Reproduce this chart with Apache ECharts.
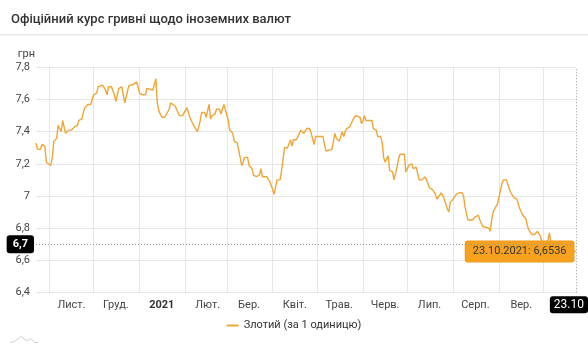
<!DOCTYPE html>
<html>
<head>
<meta charset="utf-8">
<script src="https://cdn.jsdelivr.net/npm/echarts@6/dist/echarts.min.js"></script>
<style>
  html, body { margin: 0; padding: 0; background: #fff; }
  #chart { width: 588px; height: 350px; }
</style>
</head>
<body>
<div id="chart"></div>
<script>
// Official NBU rate of the hryvnia per 1 Polish zloty, Oct 2020 – Oct 2021
const chartTitle = 'Офіційний курс гривні щодо іноземних валют';
const seriesName = 'Злотий (за 1 одиницю)';
const unitName = 'грн';

const dates = [
  '2020-10-23','2020-10-24','2020-10-26','2020-10-27','2020-10-28','2020-10-29','2020-10-30','2020-10-31',
  '2020-11-02','2020-11-03','2020-11-04','2020-11-06','2020-11-07','2020-11-08','2020-11-09','2020-11-10',
  '2020-11-12','2020-11-13','2020-11-14','2020-11-16','2020-11-17','2020-11-18','2020-11-20','2020-11-21',
  '2020-11-23','2020-11-24','2020-11-25','2020-11-26','2020-11-27','2020-11-29','2020-11-30',
  '2020-12-01','2020-12-03','2020-12-04','2020-12-05','2020-12-07','2020-12-09','2020-12-10','2020-12-11',
  '2020-12-13','2020-12-14','2020-12-15','2020-12-16','2020-12-18','2020-12-20','2020-12-21','2020-12-22',
  '2020-12-24','2020-12-25','2020-12-27','2020-12-28','2020-12-30','2020-12-31',
  '2021-01-01','2021-01-03','2021-01-05','2021-01-06','2021-01-07','2021-01-10','2021-01-11','2021-01-12',
  '2021-01-13','2021-01-14','2021-01-16','2021-01-18','2021-01-19','2021-01-21','2021-01-22','2021-01-23',
  '2021-01-25','2021-01-26','2021-01-28','2021-01-30','2021-01-31',
  '2021-02-02','2021-02-03','2021-02-04','2021-02-06','2021-02-07','2021-02-09','2021-02-10','2021-02-11',
  '2021-02-12','2021-02-14','2021-02-15','2021-02-17','2021-02-18','2021-02-19','2021-02-21','2021-02-22',
  '2021-02-24','2021-02-25','2021-02-26','2021-02-27','2021-02-28',
  '2021-03-02','2021-03-03','2021-03-05','2021-03-06','2021-03-07','2021-03-08','2021-03-10','2021-03-11',
  '2021-03-12','2021-03-13','2021-03-15','2021-03-16','2021-03-18','2021-03-19','2021-03-21','2021-03-23',
  '2021-03-24','2021-03-25','2021-03-26','2021-03-28','2021-03-29','2021-03-30',
  '2021-04-01','2021-04-02','2021-04-03','2021-04-04','2021-04-06','2021-04-07','2021-04-08','2021-04-09',
  '2021-04-11','2021-04-12','2021-04-13','2021-04-14','2021-04-15','2021-04-17','2021-04-18','2021-04-20',
  '2021-04-21','2021-04-22','2021-04-24','2021-04-26','2021-04-27','2021-04-28','2021-04-29','2021-04-30',
  '2021-05-03','2021-05-05','2021-05-06','2021-05-07','2021-05-08','2021-05-11','2021-05-12','2021-05-13',
  '2021-05-14','2021-05-16','2021-05-17','2021-05-18','2021-05-19','2021-05-20','2021-05-21','2021-05-23',
  '2021-05-24','2021-05-25','2021-05-27','2021-05-28','2021-05-30','2021-05-31',
  '2021-06-01','2021-06-02','2021-06-03','2021-06-04','2021-06-07','2021-06-08','2021-06-10','2021-06-11',
  '2021-06-13','2021-06-14','2021-06-15','2021-06-16','2021-06-18','2021-06-19','2021-06-20','2021-06-21',
  '2021-06-22','2021-06-24','2021-06-25','2021-06-26','2021-06-29','2021-06-30',
  '2021-07-02','2021-07-03','2021-07-04','2021-07-05','2021-07-07','2021-07-08','2021-07-09','2021-07-11',
  '2021-07-13','2021-07-14','2021-07-16','2021-07-17','2021-07-18','2021-07-20','2021-07-21','2021-07-22',
  '2021-07-24','2021-07-25','2021-07-26','2021-07-28','2021-07-29','2021-07-30',
  '2021-08-01','2021-08-02','2021-08-03','2021-08-05','2021-08-06','2021-08-07','2021-08-08','2021-08-09',
  '2021-08-11','2021-08-12','2021-08-14','2021-08-16','2021-08-18','2021-08-19','2021-08-21','2021-08-22',
  '2021-08-25','2021-08-26','2021-08-27','2021-08-28','2021-08-29','2021-08-30','2021-08-31',
  '2021-09-02','2021-09-03','2021-09-04','2021-09-06','2021-09-07','2021-09-08','2021-09-09','2021-09-11',
  '2021-09-12','2021-09-13','2021-09-14','2021-09-15','2021-09-16','2021-09-17','2021-09-19','2021-09-20',
  '2021-09-21','2021-09-23','2021-09-25','2021-09-27','2021-09-28','2021-09-29','2021-09-30',
  '2021-10-01','2021-10-03','2021-10-04','2021-10-05','2021-10-06','2021-10-08','2021-10-11','2021-10-14',
  '2021-10-17','2021-10-20','2021-10-23'
];

const rates = [
  7.33,7.29,7.29,7.32,7.31,7.31,7.21,7.20,
  7.19,7.24,7.34,7.36,7.44,7.44,7.40,7.47,
  7.39,7.40,7.41,7.41,7.40,7.43,7.44,7.47,
  7.48,7.52,7.55,7.54,7.57,7.57,7.57,
  7.63,7.64,7.68,7.69,7.69,7.66,7.63,7.68,
  7.68,7.68,7.63,7.59,7.67,7.68,7.67,7.58,
  7.66,7.69,7.69,7.69,7.71,7.68,
  7.64,7.63,7.63,7.67,7.66,7.66,7.66,7.73,
  7.58,7.53,7.49,7.49,7.49,7.54,7.58,7.59,
  7.56,7.54,7.50,7.50,7.50,
  7.55,7.52,7.49,7.45,7.45,7.40,7.43,7.47,
  7.52,7.52,7.49,7.57,7.48,7.50,7.51,7.54,
  7.54,7.51,7.50,7.57,7.57,
  7.47,7.41,7.39,7.34,7.33,7.33,7.24,7.19,
  7.21,7.24,7.24,7.19,7.17,7.13,7.12,7.13,
  7.17,7.12,7.12,7.12,7.11,7.09,
  7.04,7.01,7.06,7.10,7.10,7.16,7.17,7.30,
  7.30,7.30,7.35,7.31,7.35,7.35,7.36,7.41,
  7.42,7.39,7.42,7.42,7.39,7.38,7.32,7.37,
  7.37,7.37,7.32,7.28,7.29,7.29,7.34,7.39,
  7.36,7.34,7.34,7.40,7.37,7.40,7.42,7.43,
  7.44,7.47,7.50,7.49,7.49,7.45,
  7.47,7.50,7.47,7.47,7.47,7.42,7.41,7.37,
  7.37,7.33,7.24,7.21,7.25,7.16,7.15,7.15,
  7.10,7.18,7.23,7.26,7.26,7.15,
  7.19,7.20,7.20,7.17,7.18,7.14,7.10,7.10,
  7.12,7.10,7.05,7.04,7.04,7.01,6.98,6.97,
  7.02,7.03,6.98,6.92,6.90,6.96,
  6.98,6.99,7.01,7.02,7.03,7.02,7.00,6.93,
  6.85,6.85,6.85,6.87,6.88,6.85,6.81,6.80,
  6.80,6.78,6.85,6.90,6.92,6.92,6.95,
  7.04,7.08,7.10,7.10,7.07,7.04,7.02,6.99,
  6.98,6.98,6.95,6.92,6.93,6.88,6.86,6.82,
  6.79,6.76,6.76,6.78,6.78,6.75,6.71,
  6.69,6.68,6.68,6.77,6.71,6.69,6.68,6.67,
  6.66,6.66,6.6536
];

const monthLabels = {
  '01': '2021', '02': 'Лют.', '03': 'Бер.', '04': 'Квіт.', '05': 'Трав.', '06': 'Черв.',
  '07': 'Лип.', '08': 'Серп.', '09': 'Вер.', '11': 'Лист.', '12': 'Груд.'
};

const yMin = 6.4, yMax = 7.8, yStep = 0.2;
const crossValue = 6.7;
const lineColor = '#F0A535';

// every calendar day of the period becomes one slot on the x axis
const days = [];
for (let t = Date.UTC(2020, 9, 23); t <= Date.UTC(2021, 9, 23); t += 86400000) {
  days.push(new Date(t).toISOString().slice(0, 10));
}
const lastDay = days[days.length - 1];
const lastIdx = dates.length - 1;

const fmtNum = v => String(v).replace('.', ',');
const fmtDate = d => d.slice(8, 10) + '.' + d.slice(5, 7) + '.' + d.slice(0, 4);

const lineData = dates.map((d, i) => [d, rates[i]]);

const chart = echarts.init(document.getElementById('chart'), null, { renderer: 'canvas' });

chart.setOption({
  animation: false,
  textStyle: { fontFamily: 'Roboto' },
  title: {
    text: chartTitle,
    left: 6,
    top: 8,
    textStyle: { fontSize: 13, fontWeight: 500, color: '#333', fontFamily: 'Roboto' }
  },
  graphic: [
    { type: 'rect', left: 0, top: 34, shape: { width: 588, height: 1.5 }, style: { fill: '#e8e8e8' }, silent: true },
    {
      type: 'polyline', left: 8, top: 334, silent: true,
      shape: { points: [[0, 6], [4, 5], [8, 2], [11, 0], [14, 3], [17, 4], [20, 2], [24, 6], [28, 6]] },
      style: { stroke: '#ccc', lineWidth: 1, fill: null }
    }
  ],
  grid: { left: 36, right: 12, top: 67.5, bottom: 57.7, containLabel: false },
  legend: {
    bottom: 14,
    left: 'center',
    icon: 'rect',
    itemWidth: 12,
    itemHeight: 2,
    itemGap: 10,
    textStyle: { fontSize: 11, color: '#333', fontFamily: 'Roboto' },
    data: [seriesName]
  },
  xAxis: {
    type: 'category',
    data: days,
    boundaryGap: false,
    axisLine: { show: true, lineStyle: { color: '#e6e6e6' } },
    axisTick: { show: false },
    splitLine: {
      show: true,
      interval: (i, v) => v.slice(8) === '01',
      lineStyle: { color: '#e6e6e6', width: 1 }
    },
    axisLabel: {
      interval: (i, v) => v.slice(8) === '16' && v < '2021-10-01',
      margin: 7,
      fontSize: 11,
      color: '#444',
      formatter: v => {
        const m = v.slice(5, 7);
        return m === '01' ? '{b|' + monthLabels[m] + '}' : monthLabels[m];
      },
      rich: { b: { fontWeight: 'bold', fontSize: 11, color: '#333' } }
    },
    axisPointer: {
      show: true,
      status: 'show',
      value: lastDay,
      triggerTooltip: false,
      type: 'line',
      lineStyle: { color: '#999', type: [1, 2], width: 1 },
      label: {
        show: true,
        formatter: p => p.value.slice(8, 10) + '.' + p.value.slice(5, 7),
        backgroundColor: '#000',
        color: '#fff',
        fontSize: 12,
        padding: [3, 4, 2, 4],
        margin: 4
      }
    }
  },
  yAxis: {
    type: 'value',
    min: yMin,
    max: yMax,
    interval: yStep,
    name: unitName,
    nameLocation: 'end',
    nameGap: 8,
    nameTextStyle: { align: 'right', color: '#444', fontSize: 11, padding: [0, 1, 0, 0] },
    axisLine: { show: false },
    axisTick: { show: false },
    splitLine: { lineStyle: { color: '#e6e6e6' } },
    axisLabel: {
      margin: 6,
      fontSize: 11,
      color: '#444',
      formatter: v => fmtNum(Math.round(v * 10) / 10)
    },
    axisPointer: {
      show: true,
      status: 'show',
      value: crossValue,
      triggerTooltip: false,
      type: 'line',
      lineStyle: { color: '#999', type: [1, 2], width: 1 },
      label: {
        show: true,
        formatter: p => fmtNum(Math.round(p.value * 10) / 10),
        backgroundColor: '#000',
        color: '#fff',
        fontWeight: 'bold',
        fontSize: 11,
        padding: [4, 6, 3, 6],
        margin: 2
      }
    }
  },
  series: [{
    name: seriesName,
    type: 'line',
    data: lineData,
    showSymbol: false,
    symbol: 'none',
    lineStyle: { color: lineColor, width: 1.4 },
    itemStyle: { color: lineColor },
    z: 3,
    markPoint: {
      silent: true,
      symbol: 'circle',
      symbolSize: 1,
      itemStyle: { color: 'rgba(0,0,0,0)' },
      data: [{
        coord: [dates[lastIdx], rates[lastIdx]],
        value: rates[lastIdx],
        label: {
          show: true,
          position: 'left',
          distance: 2,
          formatter: () => fmtDate(dates[lastIdx]) + ': ' + fmtNum(rates[lastIdx]),
          backgroundColor: '#F7A21E',
          borderColor: '#EE9A1A',
          borderWidth: 1,
          borderRadius: 2,
          padding: [5, 7, 4, 7],
          color: '#333',
          fontSize: 11,
          fontFamily: 'Roboto'
        }
      }]
    }
  }]
});
</script>
</body>
</html>
